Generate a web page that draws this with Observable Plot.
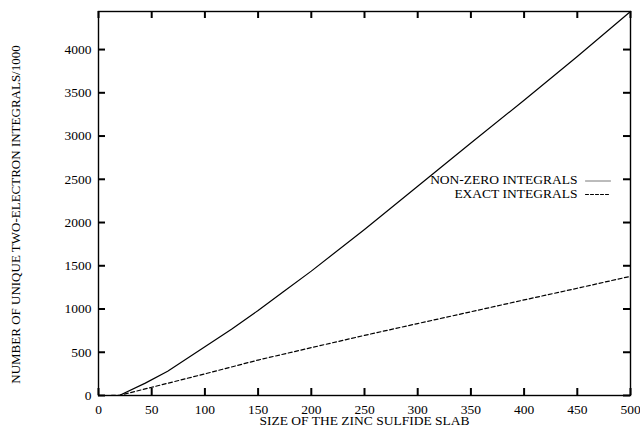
<!DOCTYPE html>
<html>
<head>
<meta charset="utf-8">
<script src="https://cdn.jsdelivr.net/npm/d3@7"></script>
<script src="https://cdn.jsdelivr.net/npm/@observablehq/plot@0.6"></script>
<style>
  html, body { margin: 0; padding: 0; background: #fff; }
  #chart { width: 640px; height: 430px; }
</style>
</head>
<body>
<div id="chart"></div>
<script>
// Slab sizes and integral counts (thousands)
const nonZeroSize   = [0, 10, 20, 44, 65, 100, 125, 150, 175, 200, 250, 300, 350, 400, 450, 500];
const nonZeroCount  = [0, 0, 2, 143, 280, 563, 766, 983, 1211, 1438, 1920, 2420, 2920, 3414, 3920, 4440];
const exactSize     = [0, 10, 20, 50, 100, 150, 200, 250, 300, 350, 400, 450, 500];
const exactCount    = [0, 0, 2, 95, 250, 410, 553, 695, 832, 968, 1105, 1240, 1378];
const xTicks = [0, 50, 100, 150, 200, 250, 300, 350, 400, 450, 500];
const yTicks = [0, 500, 1000, 1500, 2000, 2500, 3000, 3500, 4000];
const seriesLabels = ["NON-ZERO INTEGRALS", "EXACT INTEGRALS"];
const xTitle = "SIZE OF THE ZINC SULFIDE SLAB";
const yTitle = "NUMBER OF UNIQUE TWO-ELECTRON INTEGRALS/1000";

const nonZero = nonZeroSize.map((x, i) => ({x, y: nonZeroCount[i]}));
const exact = exactSize.map((x, i) => ({x, y: exactCount[i]}));

const W = 640, H = 430;
const mL = 98, mR = 10, mT = 11, mB = 35;
const xDomain = [0, 500], yDomain = [0, 4440];
const tl = 7; // tick length in pixels
// convert the pixel tick length into data units of each scale
const xTickLen = tl * (xDomain[1] - xDomain[0]) / (W - mL - mR);
const yTickLen = tl * (yDomain[1] - yDomain[0]) / (H - mT - mB);
const font = "'Liberation Serif', 'Times New Roman', serif";

const lineShape = {draw(ctx, l) { ctx.moveTo(0, 0); ctx.lineTo(0, -l); }};
const tickStyle = {stroke: "#000", strokeWidth: 2};

const chart = Plot.plot({
  width: W, height: H,
  marginLeft: mL, marginRight: mR, marginTop: mT, marginBottom: mB,
  style: {fontFamily: font, fontSize: "13.5px", color: "#000", background: "#fff"},
  x: {domain: xDomain},
  y: {domain: yDomain},
  marks: [
    // tick labels
    Plot.axisX(xTicks, {anchor: "bottom", tickSize: 0, tickPadding: 14, tickFormat: "d", label: null, fontSize: 13.5, lineAnchor: "middle"}),
    Plot.axisY(yTicks, {anchor: "left", tickSize: 0, tickPadding: 7, tickFormat: "d", label: null, fontSize: 13.5}),
    // data
    Plot.line(nonZero, {x: "x", y: "y", stroke: "#000", strokeWidth: 1.2}),
    Plot.line(exact, {x: "x", y: "y", stroke: "#000", strokeWidth: 1.2, strokeDasharray: "4,2.5"}),
    Plot.frame({stroke: "#000", strokeWidth: 1.4}),
    // inward ticks on all four sides
    Plot.ruleX(xTicks, {x: d => d, y1: yDomain[0], y2: yDomain[0] + yTickLen, ...tickStyle}),
    Plot.ruleX(xTicks, {x: d => d, y1: yDomain[1] - yTickLen, y2: yDomain[1], ...tickStyle}),
    Plot.ruleY(yTicks, {y: d => d, x1: xDomain[0], x2: xDomain[0] + xTickLen, ...tickStyle}),
    Plot.ruleY(yTicks, {y: d => d, x1: xDomain[1] - xTickLen, x2: xDomain[1], ...tickStyle}),
    // legend
    Plot.text([seriesLabels[0]], {frameAnchor: "top-right", dx: -53, dy: 168.5, text: d => d, textAnchor: "end", lineAnchor: "middle", fill: "#000", fontSize: 13.5}),
    Plot.text([seriesLabels[1]], {frameAnchor: "top-right", dx: -53, dy: 182.5, text: d => d, textAnchor: "end", lineAnchor: "middle", fill: "#000", fontSize: 13.5}),
    Plot.vector([seriesLabels[0]], {frameAnchor: "top-right", dx: -45, dy: 169.5, length: 25, rotate: 90, anchor: "start", shape: lineShape, stroke: "#555", strokeWidth: 0.8}),
    Plot.vector([seriesLabels[1]], {frameAnchor: "top-right", dx: -45, dy: 183, length: 25, rotate: 90, anchor: "start", shape: lineShape, stroke: "#000", strokeWidth: 1, strokeDasharray: "3,2"}),
    // axis titles
    Plot.text([xTitle], {frameAnchor: "bottom", dy: 25.5, text: d => d, lineAnchor: "middle", fill: "#000", fontSize: 13.5}),
    Plot.text([yTitle], {frameAnchor: "left", dx: -83, dy: 11, rotate: -90, text: d => d, textAnchor: "middle", lineAnchor: "middle", fill: "#000", fontSize: 13})
  ]
});
document.getElementById("chart").appendChild(chart);
</script>
</body>
</html>
